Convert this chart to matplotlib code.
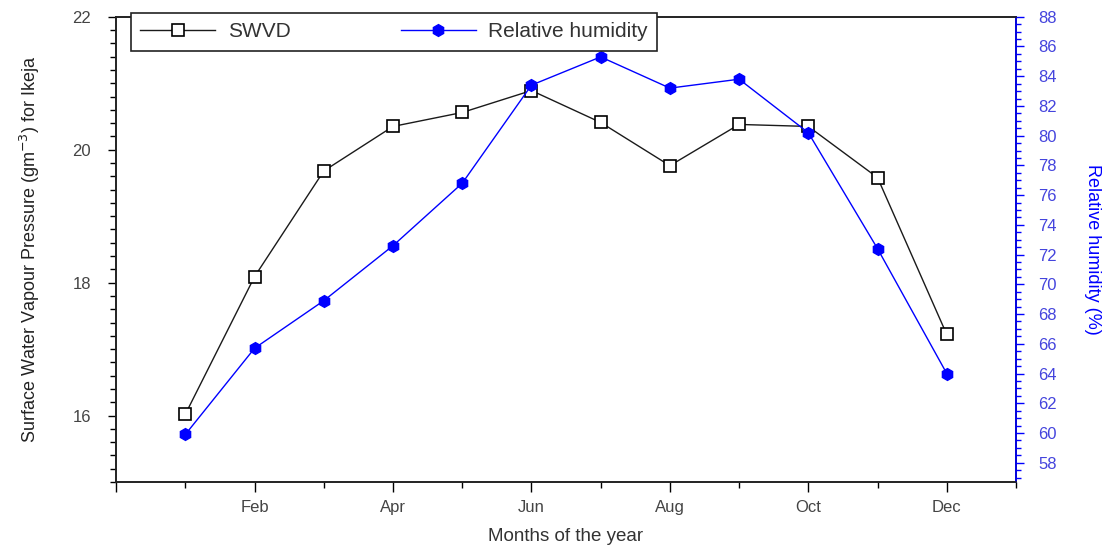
import matplotlib
matplotlib.use("Agg")
import matplotlib.pyplot as plt
from matplotlib.ticker import MultipleLocator, FixedLocator

plt.rcParams["font.family"] = ["Liberation Sans", "DejaVu Sans"]

# Monthly values
months = [1, 2, 3, 4, 5, 6, 7, 8, 9, 10, 11, 12]
swvd = [16.02, 18.09, 19.68, 20.35, 20.56, 20.89, 20.41, 19.76, 20.38, 20.35, 19.58, 17.22]
rel_humidity = [59.9, 65.7, 68.9, 72.6, 76.8, 83.4, 85.3, 83.2, 83.8, 80.2, 72.4, 64.0]
month_ticks = [0, 2, 4, 6, 8, 10, 12]
month_labels = ["", "Feb", "Apr", "Jun", "Aug", "Oct", "Dec"]

blue = "#0000ff"
label_grey = "#444444"

fig = plt.figure(figsize=(11.06, 5.48), dpi=100)
ax = fig.add_axes([0.105, 0.1204, 0.8136, 0.849])
ax2 = ax.twinx()

l1, = ax.plot(months, swvd, color="#1a1a1a", lw=1.0, marker="s", ms=8,
              mfc="white", mec="black", mew=1.2, label="SWVD")
l2, = ax2.plot(months, rel_humidity, color=blue, lw=1.0, marker="h", ms=8.5,
               mfc=blue, mec=blue, label="Relative humidity")

# left axis
ax.set_xlim(0, 13)
ax.set_ylim(15, 22)
ax.yaxis.set_minor_locator(MultipleLocator(0.2))
ax.set_yticks([16, 18, 20, 22])
ax.tick_params(axis="y", which="major", direction="out", length=6, width=1,
               labelsize=12, labelcolor=label_grey, pad=12)
ax.tick_params(axis="y", which="minor", direction="out", length=4, width=1)
ax.set_ylabel("Surface Water Vapour Pressure (gm$^{-3}$) for Ikeja",
              fontsize=13, color="#222222", labelpad=22)

# x axis
ax.xaxis.set_major_locator(FixedLocator(month_ticks))
ax.set_xticklabels(month_labels)
ax.xaxis.set_minor_locator(FixedLocator([1, 3, 5, 7, 9, 11, 13]))
ax.tick_params(axis="x", which="major", direction="out", length=7, width=1,
               labelsize=12, labelcolor=label_grey, pad=6)
ax.tick_params(axis="x", which="minor", direction="out", length=4, width=1)
ax.set_xlabel("Months of the year", fontsize=13.5, color="#333333", labelpad=9)

# right axis
ax2.set_ylim(56.7, 88)
ax2.yaxis.set_major_locator(MultipleLocator(2))
ax2.yaxis.set_minor_locator(MultipleLocator(0.5))
ax2.tick_params(axis="y", which="major", direction="out", length=6, width=1,
                color=blue, labelsize=12, labelcolor="#4444dd", pad=10)
ax2.tick_params(axis="y", which="minor", direction="out", length=3.5, width=1,
                color=blue)
ax2.set_ylabel("Relative humidity (%)", fontsize=13, color=blue,
               rotation=270, labelpad=32)
ax2.spines["right"].set_color(blue)

for a in (ax, ax2):
    for side in ("left", "bottom", "top"):
        a.spines[side].set_color("#222222")
    for sp in a.spines.values():
        sp.set_linewidth(1.2)

# legend box spans the same width as in the reference
leg_x0, leg_x1, leg_top = 131 / 1106, 657 / 1106, 1 - 13 / 548
leg = ax2.legend(handles=[l1, l2], ncol=2, loc="upper left", mode="expand",
                 bbox_to_anchor=(leg_x0, leg_top - 0.07, leg_x1 - leg_x0, 0.07),
                 bbox_transform=fig.transFigure, borderaxespad=0,
                 fancybox=False, framealpha=1, edgecolor="#222222",
                 fontsize=15, numpoints=1, handlelength=3.6,
                 handletextpad=0.6, columnspacing=0.5, borderpad=0.45)
leg.get_frame().set_linewidth(1.2)
for t in leg.get_texts():
    t.set_color("#333333")

fig.savefig("out.png", dpi=100)
